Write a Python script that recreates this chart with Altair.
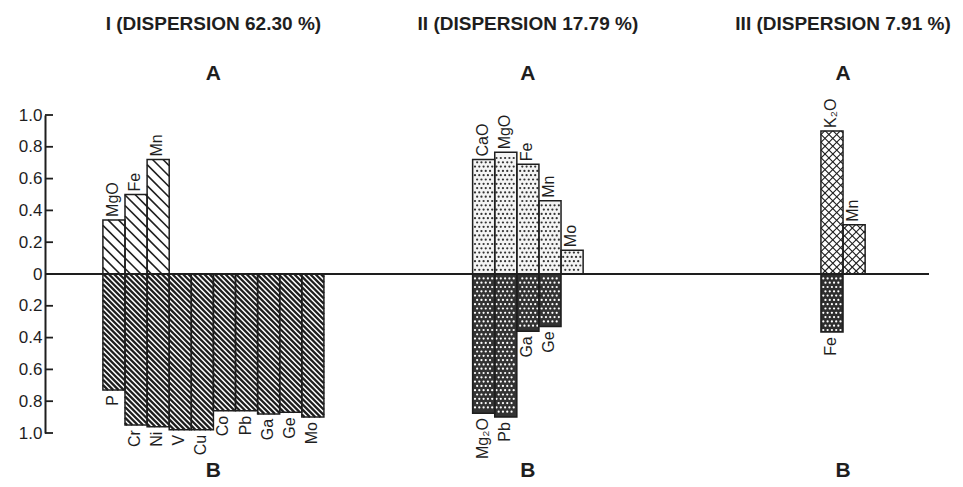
import math
import altair as alt
import pandas as pd

# ---------------- data ----------------
GROUPS = ["I", "II", "III"]
TITLES = ["I (DISPERSION 62.30 %)", "II (DISPERSION 17.79 %)", "III (DISPERSION 7.91 %)"]

A_LABELS_I = ["MgO", "Fe", "Mn"]
A_VALUES_I = [0.34, 0.50, 0.72]
B_LABELS_I = ["P", "Cr", "Ni", "V", "Cu", "Co", "Pb", "Ga", "Ge", "Mo"]
B_VALUES_I = [0.73, 0.95, 0.96, 0.98, 0.98, 0.86, 0.86, 0.88, 0.87, 0.90]

A_LABELS_II = ["CaO", "MgO", "Fe", "Mn", "Mo"]
A_VALUES_II = [0.72, 0.765, 0.69, 0.46, 0.15]
B_LABELS_II = ["Mg₂O", "Pb", "Ga", "Ge"]
B_VALUES_II = [0.875, 0.90, 0.36, 0.33]

A_LABELS_III = ["K₂O", "Mn"]
A_VALUES_III = [0.90, 0.31]
B_LABELS_III = ["Fe"]
B_VALUES_III = [0.365]

Y_TICKS = [-1.0, -0.8, -0.6, -0.4, -0.2, 0.0, 0.2, 0.4, 0.6, 0.8, 1.0]

# ---------------- layout ----------------
W, H = 884, 318
XMAX = 40.0
YMIN, YMAX = -1.0, 1.0
GROUP_START = {"I": 2.62, "II": 19.35, "III": 35.11}
GROUP_COLS = {"I": 10, "II": 5, "III": 2}
FONT = "Liberation Sans, Arial, Helvetica, sans-serif"
INK = "#1e1e1e"

PXC = W / XMAX
PYU = H / (YMAX - YMIN)

rows = []
def add(group, side, labels, values):
    for i, (lab, v) in enumerate(zip(labels, values)):
        x0 = GROUP_START[group] + i
        rows.append(dict(group=group, side=side, pattern=f"{group}-{side}", label=lab,
                         x=x0, x2=x0 + 1, xc=x0 + 0.5,
                         y=v if side == "A" else -v, y0=0.0))

add("I", "A", A_LABELS_I, A_VALUES_I)
add("I", "B", B_LABELS_I, B_VALUES_I)
add("II", "A", A_LABELS_II, A_VALUES_II)
add("II", "B", B_LABELS_II, B_VALUES_II)
add("III", "A", A_LABELS_III, A_VALUES_III)
add("III", "B", B_LABELS_III, B_VALUES_III)
bars = pd.DataFrame(rows)

# ---------------- texture helpers (derived from the bars) ----------------
def rect_px(r):
    X0, X1 = r.x * PXC, r.x2 * PXC
    Ya = (YMAX - max(r.y, r.y0)) * PYU
    Yb = (YMAX - min(r.y, r.y0)) * PYU
    return X0, X1, Ya, Yb

def hatch(df, step, slope):
    out = []
    for r in df.itertuples():
        X0, X1, Ya, Yb = rect_px(r)
        if slope == 1:
            cmin, cmax = Ya - X1, Yb - X0
        else:
            cmin, cmax = Ya + X0, Yb + X1
        for k in range(math.ceil(cmin / step), math.floor(cmax / step) + 1):
            c = k * step
            if slope == 1:
                xs, xe = max(X0, Ya - c), min(X1, Yb - c)
                if xe - xs > 0.3:
                    out.append((xs, xs + c, xe, xe + c))
            else:
                xs, xe = max(X0, c - Yb), min(X1, c - Ya)
                if xe - xs > 0.3:
                    out.append((xs, c - xs, xe, c - xe))
    return pd.DataFrame([dict(x=a / PXC, y=YMAX - b / PYU, x2=c / PXC, y2=YMAX - d / PYU)
                         for a, b, c, d in out])

def dots(df, step, margin):
    out = []
    for r in df.itertuples():
        X0, X1, Ya, Yb = rect_px(r)
        j0, j1 = math.ceil((Ya + margin) / step), math.floor((Yb - margin) / step)
        for j in range(j0, j1 + 1):
            off = step / 2 if j % 2 else 0.0
            i0 = math.ceil((X0 + margin - off) / step)
            i1 = math.floor((X1 - margin - off) / step)
            for i in range(i0, i1 + 1):
                out.append(dict(x=(i * step + off) / PXC, y=YMAX - (j * step) / PYU))
    return pd.DataFrame(out)

sel = lambda p: bars[bars.pattern == p]

# ---------------- encodings ----------------
xscale = alt.Scale(domain=[0, XMAX], nice=False, zero=False)
yscale = alt.Scale(domain=[YMIN, YMAX], nice=False, zero=False)
yaxis = alt.Axis(values=Y_TICKS, ticks=False, grid=False, domainColor=INK, domainWidth=2,
                 labelExpr="datum.value == 0 ? '0' : format(abs(datum.value), '.1f')",
                 labelFont=FONT, labelFontSize=17, labelColor=INK, labelPadding=3,
                 labelFlush=False, labelOverlap=False, title=None)
X = lambda f: alt.X(f"{f}:Q", scale=xscale, axis=None)
Y = lambda f: alt.Y(f"{f}:Q", scale=yscale, axis=yaxis)

fill_map = {"I-A": "#ffffff", "I-B": "#ffffff", "II-A": "#f4f4f4",
            "II-B": "#333333", "III-A": "#ffffff", "III-B": "#2e2e2e"}

base_fill = alt.Chart(bars).mark_bar(strokeWidth=0).encode(
    x=X("x"), x2="x2", y=Y("y"), y2="y0",
    color=alt.Color("pattern:N", scale=alt.Scale(domain=list(fill_map), range=list(fill_map.values())),
                    legend=None))

def rule_layer(df, width):
    return alt.Chart(df).mark_rule(color=INK, strokeWidth=width, strokeCap="butt").encode(
        x=X("x"), x2="x2", y=Y("y"), y2="y2")

layers = [base_fill,
          rule_layer(hatch(sel("I-A"), 10.5, 1), 1.6),
          rule_layer(hatch(sel("I-B"), 5.3, 1), 2.3),
          rule_layer(hatch(sel("III-A"), 7.8, 1), 1.1),
          rule_layer(hatch(sel("III-A"), 7.8, -1), 1.1)]

dotsA = dots(sel("II-A"), 4.3, 1.5)
layers.append(alt.Chart(dotsA).mark_circle(color="#333333", size=5, opacity=1).encode(
    x=X("x"), y=Y("y")))
dotsB = dots(pd.concat([sel("II-B"), sel("III-B")]), 4.3, 1.5)
layers.append(alt.Chart(dotsB).mark_circle(color="#ffffff", size=5, opacity=1).encode(
    x=X("x"), y=Y("y")))

outline = alt.Chart(bars).mark_bar(fillOpacity=0, stroke=INK, strokeWidth=1.5).encode(
    x=X("x"), x2="x2", y=Y("y"), y2="y0")
layers.append(outline)

zero = alt.Chart(pd.DataFrame({"y": [0.0]})).mark_rule(color=INK, strokeWidth=1.8).encode(y=Y("y"))
layers.append(zero)

ticks = alt.Chart(pd.DataFrame({"y": Y_TICKS})).mark_rule(color=INK, strokeWidth=1.8).encode(
    y=Y("y"), x=alt.value(0), x2=alt.value(8))
layers.append(ticks)

lab_pos = alt.Chart(bars[bars.side == "A"]).mark_text(
    angle=270, align="left", baseline="middle", dx=3, dy=-1, font=FONT, fontSize=16, color=INK
).encode(x=X("xc"), y=Y("y"), text="label:N")
lab_neg = alt.Chart(bars[bars.side == "B"]).mark_text(
    angle=270, align="right", baseline="middle", dx=-5, dy=-1, font=FONT, fontSize=16, color=INK
).encode(x=X("xc"), y=Y("y"), text="label:N")
layers += [lab_pos, lab_neg]

heads = pd.DataFrame({"group": GROUPS, "title": TITLES,
                      "xc": [GROUP_START[g] + GROUP_COLS[g] / 2 for g in GROUPS],
                      "a": ["A"] * 3, "b": ["B"] * 3})
layers.append(alt.Chart(heads).mark_text(font=FONT, fontSize=19, fontWeight="bold", color=INK,
                                         baseline="alphabetic").encode(
    x=X("xc"), y=alt.value(-85), text="title:N"))
layers.append(alt.Chart(heads).mark_text(font=FONT, fontSize=21, fontWeight="bold", color=INK,
                                         baseline="alphabetic").encode(
    x=X("xc"), y=alt.value(-35), text="a:N"))
layers.append(alt.Chart(heads).mark_text(font=FONT, fontSize=21, fontWeight="bold", color=INK,
                                         baseline="alphabetic").encode(
    x=X("xc"), y=alt.value(362), text="b:N"))

chart = alt.layer(*layers).properties(
    width=W, height=H,
    autosize=alt.AutoSizeParams(type="none"),
    padding={"left": 37, "top": 107, "right": 26, "bottom": 53},
    background="white",
).configure_view(stroke=None)

chart.save("out.html", embed_options={"renderer": "svg", "actions": False})
